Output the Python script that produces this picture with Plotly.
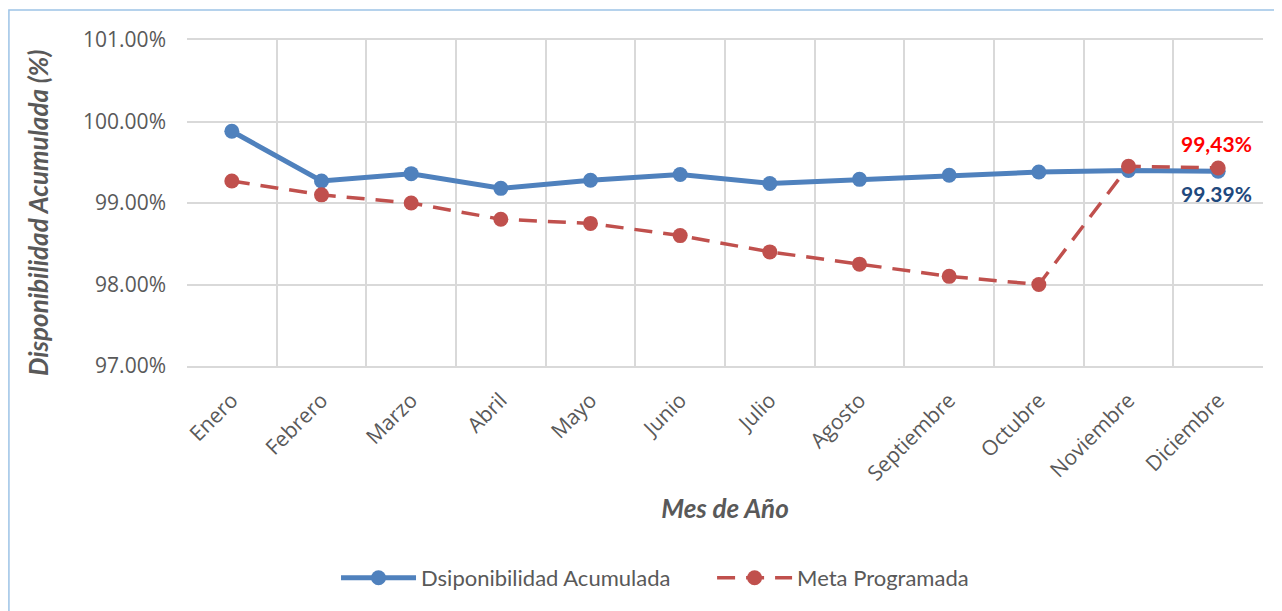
"""Disponibilidad acumulada vs meta programada, por mes."""

import plotly.graph_objects as go

meses = [
    "Enero", "Febrero", "Marzo", "Abril", "Mayo", "Junio",
    "Julio", "Agosto", "Septiembre", "Octubre", "Noviembre", "Diciembre",
]
disponibilidad = [99.88, 99.27, 99.36, 99.18, 99.28, 99.35,
                  99.24, 99.29, 99.34, 99.38, 99.40, 99.39]
meta = [99.27, 99.10, 99.00, 98.80, 98.75, 98.60,
        98.40, 98.25, 98.10, 98.00, 99.45, 99.43]
y_ticks = [97, 98, 99, 100, 101]

_C = {
    "disp": "#4F81BD",
    "meta": "#C0504D",
    "text": "#595959",
    "grid": "#D9D9D9",
}
_TICK_FONT = dict(family="Open Sans", size=21, color=_C["text"])
_TITLE_FONT = dict(family="Lato", size=26, color=_C["text"])
_LEGEND_FONT = dict(family="Lato", size=22, color=_C["text"])

fig = go.Figure()

fig.add_trace(go.Scatter(
    x=meses, y=disponibilidad,
    name="Dsiponibilidad Acumulada", mode="lines+markers",
    line=dict(color=_C["disp"], width=5),
    marker=dict(color=_C["disp"], size=15),
    legend="legend",
))
fig.add_trace(go.Scatter(
    x=meses, y=meta,
    name="Meta Programada", mode="lines+markers",
    line=dict(color=_C["meta"], width=3.5, dash="18px,11px"),
    marker=dict(color=_C["meta"], size=15),
    legend="legend2",
))

# Etiquetas del último mes
fig.add_annotation(
    x=meses[-1], y=meta[-1], text="<b>99,43%</b>", showarrow=False,
    yshift=24, xshift=-2, font=dict(family="Lato", size=21, color="#FF0000"),
)
fig.add_annotation(
    x=meses[-1], y=disponibilidad[-1], text="<b>99.39%</b>", showarrow=False,
    yshift=-22, xshift=-2, font=dict(family="Lato", size=21, color="#1F497D"),
)

# Título del eje Y (como anotación para centrarlo como en el original)
fig.add_annotation(
    xref="paper", yref="paper", x=-0.1385, y=0.469,
    xanchor="center", yanchor="middle",
    text="<b><i>Disponibilidad Acumulada (%)</i></b>", textangle=-90,
    showarrow=False, font=_TITLE_FONT,
)

# Borde exterior del gráfico
fig.add_shape(
    type="rect", xref="paper", yref="paper",
    x0=-0.1655, x1=1.05, y0=-0.85, y1=1.092,
    line=dict(color="#9DC3E6", width=1.5), layer="below",
)

# la página añade 8 px de margen: márgenes compensados
fig.update_layout(
    width=1282, height=611,
    margin=dict(l=179, r=27, t=32, b=253, autoexpand=False),
    plot_bgcolor="white", paper_bgcolor="white",
    showlegend=True,
    legend=dict(
        x=0.1385, xanchor="left", y=-0.65, yanchor="middle",
        font=_LEGEND_FONT, itemwidth=75,
    ),
    legend2=dict(
        x=0.488, xanchor="left", y=-0.65, yanchor="middle",
        font=_LEGEND_FONT, itemwidth=75,
    ),
    xaxis=dict(
        type="category", range=[-0.5, 11.5], automargin=False,
        tickson="boundaries", ticks="", tickangle=-45,
        ticklabelstandoff=12,
        showgrid=True, gridcolor=_C["grid"], gridwidth=1.5,
        showline=True, linecolor=_C["grid"], linewidth=1.5, mirror=True,
        tickfont=_TICK_FONT,
        title=dict(text="<b><i>Mes de Año</i></b>", font=_TITLE_FONT, standoff=14),
    ),
    yaxis=dict(
        range=[97, 101], tickvals=y_ticks, automargin=False,
        ticktext=[f"{v:.2f}%" for v in y_ticks],
        showgrid=True, gridcolor=_C["grid"], gridwidth=1.5,
        zeroline=False, showline=False, ticks="",
        ticklabelstandoff=20,
        tickfont=_TICK_FONT,
    ),
)

fig.write_html("out.html")
